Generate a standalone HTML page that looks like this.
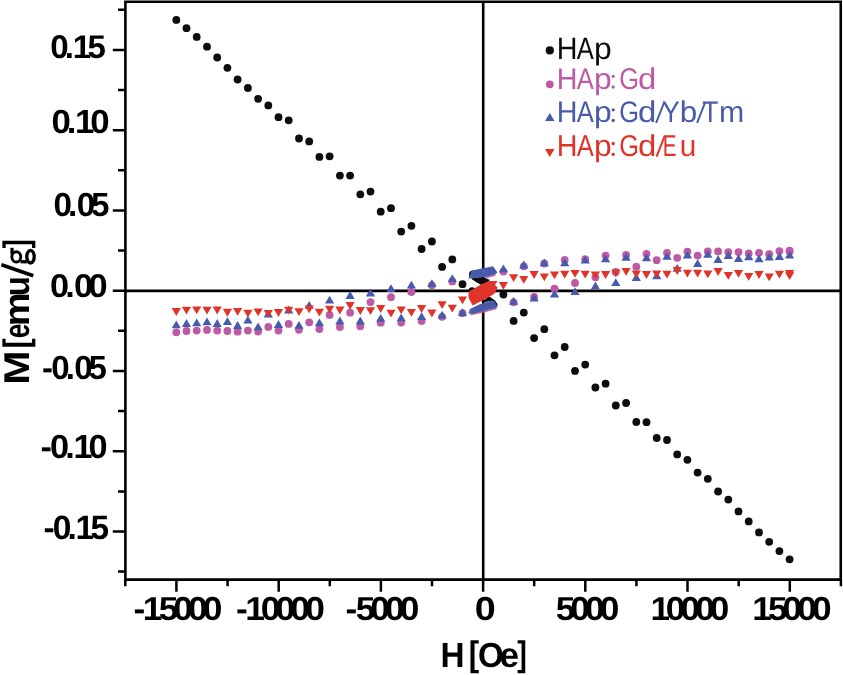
<!DOCTYPE html>
<html><head><meta charset="utf-8"><title>M-H curves</title>
<style>html,body{margin:0;padding:0;background:#fff;width:843px;height:675px;overflow:hidden}svg{display:block}text{text-rendering:geometricPrecision}svg{will-change:transform}</style>
</head><body>
<svg width="843" height="675" viewBox="0 0 843 675" font-family="Liberation Sans, sans-serif" font-size="100">
<rect width="843" height="675" fill="#fff"/>
<path d="M125.4 1.8H840.75V579.6H125.4Z" fill="none" stroke="#000" stroke-width="2.6"/>
<path d="M125.4 290.9H840.75M483.2 1.8V579.6" stroke="#000" stroke-width="2.6"/>
<path d="M118 571.6H125.4M112.8 531.5H125.4M118 491.4H125.4M112.8 451.2H125.4M118 411.1H125.4M112.8 371.0H125.4M118 330.8H125.4M112.8 290.7H125.4M118 250.6H125.4M112.8 210.4H125.4M118 170.3H125.4M112.8 130.2H125.4M118 90.0H125.4M112.8 49.9H125.4M118 9.8H125.4M125.3 579.6V586.3M176.4 579.6V591.8M227.6 579.6V586.3M278.7 579.6V591.8M329.8 579.6V586.3M380.9 579.6V591.8M432.0 579.6V586.3M483.1 579.6V591.8M534.2 579.6V586.3M585.3 579.6V591.8M636.4 579.6V586.3M687.5 579.6V591.8M738.7 579.6V586.3M789.8 579.6V591.8M840.9 579.6V586.3" stroke="#000" stroke-width="2.5"/>
<g fill="#0d0d0d"><circle cx="176.3" cy="19.9" r="3.9"/><circle cx="186.5" cy="28.2" r="3.9"/><circle cx="196.7" cy="36.9" r="3.9"/><circle cx="207.0" cy="46.7" r="3.9"/><circle cx="217.2" cy="57.5" r="3.9"/><circle cx="227.4" cy="67.8" r="3.9"/><circle cx="237.6" cy="79.5" r="3.9"/><circle cx="247.9" cy="88.0" r="3.9"/><circle cx="258.1" cy="98.8" r="3.9"/><circle cx="268.3" cy="105.4" r="3.9"/><circle cx="278.5" cy="117.2" r="3.9"/><circle cx="288.7" cy="120.3" r="3.9"/><circle cx="299.0" cy="138.5" r="3.9"/><circle cx="309.2" cy="141.4" r="3.9"/><circle cx="319.4" cy="156.9" r="3.9"/><circle cx="329.6" cy="156.3" r="3.9"/><circle cx="339.9" cy="175.6" r="3.9"/><circle cx="350.1" cy="175.6" r="3.9"/><circle cx="360.3" cy="194.3" r="3.9"/><circle cx="370.5" cy="191.6" r="3.9"/><circle cx="380.7" cy="211.7" r="3.9"/><circle cx="391.0" cy="208.2" r="3.9"/><circle cx="401.2" cy="231.6" r="3.9"/><circle cx="411.4" cy="225.8" r="3.9"/><circle cx="421.6" cy="249.0" r="3.9"/><circle cx="431.9" cy="241.5" r="3.9"/><circle cx="442.1" cy="266.9" r="3.9"/><circle cx="452.3" cy="259.4" r="3.9"/><circle cx="462.5" cy="284.2" r="3.9"/><circle cx="503.4" cy="294.5" r="3.9"/><circle cx="513.6" cy="320.9" r="3.9"/><circle cx="523.8" cy="312.6" r="3.9"/><circle cx="534.1" cy="338.1" r="3.9"/><circle cx="544.3" cy="329.2" r="3.9"/><circle cx="554.5" cy="355.3" r="3.9"/><circle cx="564.7" cy="347.0" r="3.9"/><circle cx="575.0" cy="370.9" r="3.9"/><circle cx="585.2" cy="364.6" r="3.9"/><circle cx="595.4" cy="387.5" r="3.9"/><circle cx="605.6" cy="383.7" r="3.9"/><circle cx="615.8" cy="405.5" r="3.9"/><circle cx="626.1" cy="403.0" r="3.9"/><circle cx="636.3" cy="422.0" r="3.9"/><circle cx="646.5" cy="422.2" r="3.9"/><circle cx="656.7" cy="438.0" r="3.9"/><circle cx="667.0" cy="440.0" r="3.9"/><circle cx="677.2" cy="454.4" r="3.9"/><circle cx="687.4" cy="459.8" r="3.9"/><circle cx="697.6" cy="472.6" r="3.9"/><circle cx="707.8" cy="478.8" r="3.9"/><circle cx="718.1" cy="491.5" r="3.9"/><circle cx="728.3" cy="499.6" r="3.9"/><circle cx="738.5" cy="511.4" r="3.9"/><circle cx="748.7" cy="521.4" r="3.9"/><circle cx="759.0" cy="532.4" r="3.9"/><circle cx="769.2" cy="541.8" r="3.9"/><circle cx="779.4" cy="551.1" r="3.9"/><circle cx="789.6" cy="559.3" r="3.9"/><circle cx="473" cy="274.6" r="4"/><path d="M471.5 277.5L482 276.5L490 280L486 283.5L481.4 285L476.4 282.3L472.2 279.5Z"/><path d="M481.6 303L488.2 296.5L491 297.4L495 300.4L497.6 304.2L497 307L490 301Z"/><circle cx="472" cy="290.6" r="3.4"/></g>
<g fill="#be5aa5"><circle cx="176.3" cy="332.3" r="3.9"/><circle cx="186.5" cy="331.0" r="3.9"/><circle cx="196.7" cy="330.6" r="3.9"/><circle cx="207.0" cy="329.9" r="3.9"/><circle cx="217.2" cy="330.6" r="3.9"/><circle cx="227.4" cy="331.0" r="3.9"/><circle cx="237.6" cy="331.7" r="3.9"/><circle cx="247.9" cy="330.6" r="3.9"/><circle cx="258.1" cy="331.5" r="3.9"/><circle cx="268.3" cy="326.9" r="3.9"/><circle cx="278.5" cy="330.5" r="3.9"/><circle cx="288.7" cy="323.9" r="3.9"/><circle cx="299.0" cy="329.8" r="3.9"/><circle cx="309.2" cy="322.3" r="3.9"/><circle cx="319.4" cy="329.1" r="3.9"/><circle cx="329.6" cy="314.9" r="3.9"/><circle cx="339.9" cy="327.0" r="3.9"/><circle cx="350.1" cy="312.7" r="3.9"/><circle cx="360.3" cy="326.3" r="3.9"/><circle cx="370.5" cy="302.1" r="3.9"/><circle cx="380.7" cy="322.7" r="3.9"/><circle cx="391.0" cy="297.2" r="3.9"/><circle cx="401.2" cy="322.6" r="3.9"/><circle cx="411.4" cy="292.0" r="3.9"/><circle cx="421.6" cy="320.9" r="3.9"/><circle cx="431.9" cy="285.3" r="3.9"/><circle cx="442.1" cy="316.8" r="3.9"/><circle cx="452.3" cy="281.4" r="3.9"/><circle cx="462.5" cy="313.2" r="3.9"/><circle cx="503.4" cy="271.6" r="3.9"/><circle cx="513.6" cy="302.3" r="3.9"/><circle cx="523.8" cy="266.3" r="3.9"/><circle cx="534.1" cy="296.9" r="3.9"/><circle cx="544.3" cy="263.5" r="3.9"/><circle cx="554.5" cy="288.7" r="3.9"/><circle cx="564.7" cy="259.9" r="3.9"/><circle cx="575.0" cy="283.0" r="3.9"/><circle cx="585.2" cy="259.2" r="3.9"/><circle cx="595.4" cy="277.3" r="3.9"/><circle cx="605.6" cy="255.6" r="3.9"/><circle cx="615.8" cy="272.0" r="3.9"/><circle cx="626.1" cy="254.9" r="3.9"/><circle cx="636.3" cy="266.7" r="3.9"/><circle cx="646.5" cy="253.9" r="3.9"/><circle cx="656.7" cy="260.2" r="3.9"/><circle cx="667.0" cy="252.8" r="3.9"/><circle cx="677.2" cy="257.8" r="3.9"/><circle cx="687.4" cy="251.6" r="3.9"/><circle cx="697.6" cy="255.6" r="3.9"/><circle cx="707.8" cy="251.5" r="3.9"/><circle cx="718.1" cy="251.4" r="3.9"/><circle cx="728.3" cy="252.1" r="3.9"/><circle cx="738.5" cy="252.1" r="3.9"/><circle cx="748.7" cy="253.5" r="3.9"/><circle cx="759.0" cy="252.8" r="3.9"/><circle cx="769.2" cy="254.2" r="3.9"/><circle cx="779.4" cy="251.1" r="3.9"/><circle cx="789.6" cy="250.6" r="3.9"/><circle cx="789.6" cy="251.6" r="3.9"/></g><path d="M485.5 277.9L495.6 274.8M470.4 314.5L483.8 311.8L496.4 308.3" stroke="#be5aa5" stroke-width="1.5" fill="none"/>
<g fill="#485aaa"><path d="M171.7 328.3H180.9L176.3 320.4Z"/><path d="M181.9 326.9H191.1L186.5 319.0Z"/><path d="M192.1 326.3H201.3L196.7 318.4Z"/><path d="M202.4 325.3H211.6L207.0 317.4Z"/><path d="M212.6 326.9H221.8L217.2 319.0Z"/><path d="M222.8 325.1H232.0L227.4 317.2Z"/><path d="M233.0 328.9H242.2L237.6 321.1Z"/><path d="M243.3 323.6H252.5L247.9 315.7Z"/><path d="M253.5 330.3H262.7L258.1 322.4Z"/><path d="M263.7 317.4H272.9L268.3 309.6Z"/><path d="M273.9 327.9H283.1L278.5 320.1Z"/><path d="M284.1 313.4H293.3L288.7 305.6Z"/><path d="M294.4 328.8H303.6L299.0 320.9Z"/><path d="M304.6 308.8H313.8L309.2 300.9Z"/><path d="M314.8 326.3H324.0L319.4 318.4Z"/><path d="M325.0 303.6H334.2L329.6 295.8Z"/><path d="M335.3 324.4H344.5L339.9 316.6Z"/><path d="M345.5 298.9H354.7L350.1 291.1Z"/><path d="M355.7 324.4H364.9L360.3 316.6Z"/><path d="M365.9 296.4H375.1L370.5 288.6Z"/><path d="M376.1 321.8H385.3L380.7 313.9Z"/><path d="M386.4 292.1H395.6L391.0 284.2Z"/><path d="M396.6 321.2H405.8L401.2 313.4Z"/><path d="M406.8 288.6H416.0L411.4 280.7Z"/><path d="M417.0 320.1H426.2L421.6 312.2Z"/><path d="M427.2 287.1H436.5L431.9 279.2Z"/><path d="M437.5 318.6H446.7L442.1 310.8Z"/><path d="M447.7 282.1H456.9L452.3 274.2Z"/><path d="M457.9 316.1H467.1L462.5 308.2Z"/><path d="M498.8 272.2H508.0L503.4 264.4Z"/><path d="M509.0 304.8H518.2L513.6 296.9Z"/><path d="M519.2 268.4H528.4L523.8 260.6Z"/><path d="M529.5 301.4H538.7L534.1 293.6Z"/><path d="M539.7 266.3H548.9L544.3 258.4Z"/><path d="M549.9 297.6H559.1L554.5 289.8Z"/><path d="M560.1 266.2H569.3L564.7 258.4Z"/><path d="M570.4 295.1H579.6L575.0 287.2Z"/><path d="M580.6 263.6H589.8L585.2 255.7Z"/><path d="M590.8 289.4H600.0L595.4 281.6Z"/><path d="M601.0 262.2H610.2L605.6 254.4Z"/><path d="M611.2 286.1H620.4L615.8 278.2Z"/><path d="M621.5 260.8H630.7L626.1 252.9Z"/><path d="M631.7 280.9H640.9L636.3 273.1Z"/><path d="M641.9 261.2H651.1L646.5 253.4Z"/><path d="M652.1 279.2H661.3L656.7 271.4Z"/><path d="M662.4 259.8H671.6L667.0 251.9Z"/><path d="M672.6 271.8H681.8L677.2 263.9Z"/><path d="M682.8 258.4H692.0L687.4 250.5Z"/><path d="M693.0 267.1H702.2L697.6 259.2Z"/><path d="M703.2 257.8H712.4L707.8 249.9Z"/><path d="M713.5 262.9H722.7L718.1 255.1Z"/><path d="M723.7 258.9H732.9L728.3 251.0Z"/><path d="M733.9 262.1H743.1L738.5 254.2Z"/><path d="M744.1 260.3H753.3L748.7 252.4Z"/><path d="M754.4 262.2H763.6L759.0 254.4Z"/><path d="M764.6 260.6H773.8L769.2 252.8Z"/><path d="M774.8 259.9H784.0L779.4 252.1Z"/><path d="M785.0 258.6H794.2L789.6 250.8Z"/><path d="M468.3 278.4L471.8 270.6L493.0 266.2L497.5 272.6L495 274.3L486.7 276.8L478.4 278Z"/><path d="M470 308.9L479.3 304.4L491.8 300.4L494.4 300.9L497.6 306.7L497.1 307.6L483.8 311.1L472.7 313.8L468.4 313.6Z"/></g>
<g fill="#e0342a"><path d="M171.7 308.1H180.9L176.3 316.0Z"/><path d="M181.9 306.7H191.1L186.5 314.6Z"/><path d="M192.1 306.4H201.3L196.7 314.2Z"/><path d="M202.4 306.7H211.6L207.0 314.6Z"/><path d="M212.6 306.6H221.8L217.2 314.4Z"/><path d="M222.8 308.8H232.0L227.4 316.7Z"/><path d="M233.0 307.9H242.2L237.6 315.8Z"/><path d="M243.3 309.7H252.5L247.9 317.6Z"/><path d="M253.5 308.4H262.7L258.1 316.3Z"/><path d="M263.7 309.9H272.9L268.3 317.8Z"/><path d="M273.9 309.1H283.1L278.5 316.9Z"/><path d="M284.1 306.8H293.3L288.7 314.6Z"/><path d="M294.4 308.2H303.6L299.0 316.1Z"/><path d="M304.6 305.4H313.8L309.2 313.2Z"/><path d="M314.8 308.8H324.0L319.4 316.6Z"/><path d="M325.0 305.8H334.2L329.6 313.6Z"/><path d="M335.3 306.6H344.5L339.9 314.4Z"/><path d="M345.5 301.9H354.7L350.1 309.8Z"/><path d="M355.7 307.1H364.9L360.3 314.9Z"/><path d="M365.9 307.2H375.1L370.5 315.1Z"/><path d="M376.1 305.1H385.3L380.7 312.9Z"/><path d="M386.4 309.8H395.6L391.0 317.6Z"/><path d="M396.6 306.4H405.8L401.2 314.3Z"/><path d="M406.8 308.9H416.0L411.4 316.8Z"/><path d="M417.0 305.1H426.2L421.6 312.9Z"/><path d="M427.2 309.6H436.5L431.9 317.4Z"/><path d="M437.5 301.2H446.7L442.1 309.1Z"/><path d="M447.7 304.7H456.9L452.3 312.6Z"/><path d="M457.9 296.4H467.1L462.5 304.3Z"/><path d="M498.8 281.9H508.0L503.4 289.8Z"/><path d="M509.0 274.2H518.2L513.6 282.1Z"/><path d="M519.2 275.9H528.4L523.8 283.8Z"/><path d="M529.5 271.1H538.7L534.1 278.9Z"/><path d="M539.7 273.4H548.9L544.3 281.3Z"/><path d="M549.9 271.4H559.1L554.5 279.3Z"/><path d="M560.1 270.8H569.3L564.7 278.6Z"/><path d="M570.4 269.9H579.6L575.0 277.8Z"/><path d="M580.6 270.8H589.8L585.2 278.6Z"/><path d="M590.8 271.4H600.0L595.4 279.2Z"/><path d="M601.0 271.1H610.2L605.6 278.9Z"/><path d="M611.2 269.4H620.4L615.8 277.3Z"/><path d="M621.5 267.9H630.7L626.1 275.8Z"/><path d="M631.7 270.4H640.9L636.3 278.3Z"/><path d="M641.9 271.1H651.1L646.5 278.9Z"/><path d="M652.1 270.4H661.3L656.7 278.3Z"/><path d="M662.4 270.8H671.6L667.0 278.6Z"/><path d="M672.6 267.1H681.8L677.2 274.9Z"/><path d="M682.8 269.7H692.0L687.4 277.6Z"/><path d="M693.0 269.7H702.2L697.6 277.6Z"/><path d="M703.2 270.4H712.4L707.8 278.3Z"/><path d="M713.5 268.1H722.7L718.1 275.9Z"/><path d="M723.7 271.9H732.9L728.3 279.8Z"/><path d="M733.9 269.9H743.1L738.5 277.8Z"/><path d="M744.1 272.9H753.3L748.7 280.8Z"/><path d="M754.4 271.1H763.6L759.0 278.9Z"/><path d="M764.6 273.4H773.8L769.2 281.2Z"/><path d="M774.8 270.8H784.0L779.4 278.6Z"/><path d="M785.0 270.1H794.2L789.6 277.9Z"/><path d="M785.0 272.2H794.2L789.6 280.1Z"/><path d="M469.1 291.6L481.4 284.3L488.8 280.9L497.5 280.9L495 285.1L497.5 287.2L497.1 288.9L494.4 293.8L488.2 297.6L472.7 305.6L468.7 298.2L468.4 293.8Z"/></g>
<g>
<circle cx="549.8" cy="50.4" r="4.1" fill="#0d0d0d"/>
<circle cx="549.8" cy="84.3" r="3.9" fill="#be5aa5"/>
<path d="M545 120.9H554.5L549.75 113Z" fill="#485aaa"/>
<path d="M545 149H554.5L549.75 157Z" fill="#e0342a"/>
</g>
<text x="151.6 195.9 219.7 264.5" y="0" transform="translate(0 57.77) scale(0.3310 0.3282)" font-weight="bold">0.15</text>
<text x="147.8 192.0 215.8 259.7" y="0" transform="translate(0 133.16) scale(0.3479 0.3352)" font-weight="bold">0.10</text>
<text x="160.7 204.9 230.7 273.6" y="0" transform="translate(0 216.17) scale(0.3322 0.3338)" font-weight="bold">0.05</text>
<text x="145.9 190.2 216.0 257.8" y="0" transform="translate(0 296.67) scale(0.3429 0.3296)" font-weight="bold">0.00</text>
<text x="127.3 155.2 199.5 225.3 268.2" y="0" transform="translate(0 379.07) scale(0.3297 0.3338)" font-weight="bold">-0.05</text>
<text x="118.3 146.3 190.5 214.3 258.2" y="0" transform="translate(0 458.26) scale(0.3425 0.3352)" font-weight="bold">-0.10</text>
<text x="129.9 157.9 202.1 225.9 270.8" y="0" transform="translate(0 538.76) scale(0.3345 0.3366)" font-weight="bold">-0.15</text>
<text x="377.4 403.3 448.2 489.1 530.9 572.8" y="0" transform="translate(0 619.97) scale(0.3540 0.3324)" font-weight="bold">-15000</text>
<text x="666.7 692.6 736.5 778.4 820.2 862.1" y="0" transform="translate(0 619.97) scale(0.3540 0.3324)" font-weight="bold">-10000</text>
<text x="980.2 1009.1 1050.0 1091.9 1133.8" y="0" transform="translate(0 619.97) scale(0.3526 0.3324)" font-weight="bold">-5000</text>
<text x="1260.8" y="0" transform="translate(0 619.97) scale(0.3766 0.3324)" font-weight="bold">0</text>
<text x="1575.2 1616.1 1658.0 1699.8" y="0" transform="translate(0 619.97) scale(0.3528 0.3324)" font-weight="bold">5000</text>
<text x="1855.1 1899.0 1940.9 1982.7 2024.6" y="0" transform="translate(0 619.97) scale(0.3506 0.3324)" font-weight="bold">10000</text>
<text x="2140.3 2185.2 2226.1 2267.9 2309.8" y="0" transform="translate(0 619.97) scale(0.3515 0.3324)" font-weight="bold">15000</text>
<g transform="translate(0 667.1)"><text transform="translate(440.57 0.00) scale(0.3328 0.3478)" font-weight="bold">H</text><text transform="translate(468.63 -0.84) scale(0.3115 0.3543)" font-weight="bold">[</text><text transform="translate(477.98 0.00) scale(0.3300 0.3478)" font-weight="bold">O</text><text transform="translate(499.39 0.00) scale(0.3521 0.3478)" font-weight="bold">e</text><text transform="translate(517.21 -0.84) scale(0.2889 0.3543)" font-weight="bold">]</text></g>
<g transform="translate(28.7 382) rotate(-90)"><text transform="translate(-2.87 0.00) scale(0.4100 0.3580)" font-weight="bold">M</text><text transform="translate(33.45 -0.84) scale(0.3077 0.3543)" font-weight="bold">[</text><text transform="translate(43.65 0.00) scale(0.2625 0.3580)" font-weight="bold">e</text><text transform="translate(55.63 0.00) scale(0.3816 0.3580)" font-weight="bold">m</text><text transform="translate(85.83 0.00) scale(0.3292 0.3580)" font-weight="bold">u</text><text transform="translate(133.63 -1.02) scale(0.2704 0.3532)" font-weight="bold">]</text><path d="M106.2 4.6L117.2 -27.3" stroke="#000" stroke-width="3.6"/></g>
<g fill="none" stroke="#000"><ellipse cx="16.3" cy="256.9" rx="4.45" ry="5.1" stroke-width="2.9"/><ellipse cx="30.5" cy="256.7" rx="3.7" ry="6.3" stroke-width="3.3"/><path d="M20.5 261.6L26.8 261.9" stroke-width="3.4"/></g><rect x="10.4" y="247.8" width="3.2" height="6.5"/>
<g fill="#0d0d0d"><text transform="translate(556.80 58.7) scale(0.2875 0.3072)">H</text><text transform="translate(576.80 58.7) scale(0.2561 0.3072)">A</text><text transform="translate(593.97 58.7) scale(0.3182 0.3072)">p</text></g>
<g fill="#be5aa5"><text transform="translate(556.80 88.7) scale(0.2875 0.3000)">H</text><text transform="translate(576.80 88.7) scale(0.2561 0.3000)">A</text><text transform="translate(593.97 88.7) scale(0.3182 0.3000)">p</text><circle cx="613.20" cy="76.28" r="1.65"/><circle cx="613.20" cy="87.00" r="1.65"/><text transform="translate(619.13 88.7) scale(0.2538 0.3000)">G</text><text transform="translate(638.08 88.7) scale(0.3289 0.3000)">d</text></g>
<g fill="#485aaa"><text transform="translate(556.80 122.2) scale(0.2875 0.2986)">H</text><text transform="translate(576.80 122.2) scale(0.2561 0.2986)">A</text><text transform="translate(593.97 122.2) scale(0.3182 0.2986)">p</text><circle cx="613.20" cy="109.84" r="1.65"/><circle cx="613.20" cy="120.50" r="1.65"/><text transform="translate(619.13 122.2) scale(0.2538 0.2986)">G</text><text transform="translate(638.08 122.2) scale(0.3289 0.2986)">d</text><text transform="translate(662.00 122.2) scale(0.2656 0.2986)">Y</text><text transform="translate(679.80 122.2) scale(0.3136 0.2986)">b</text><text transform="translate(702.27 122.2) scale(0.2632 0.2986)">T</text><text transform="translate(718.98 122.2) scale(0.3029 0.2986)">m</text></g>
<path d="M656.1 122.8L664.3 102M697.1 122.8L705.3 102" stroke="#485aaa" stroke-width="2.0"/>
<g fill="#e0342a"><text transform="translate(556.80 156.0) scale(0.2875 0.3014)">H</text><text transform="translate(576.80 156.0) scale(0.2561 0.3014)">A</text><text transform="translate(593.97 156.0) scale(0.3182 0.3014)">p</text><circle cx="613.20" cy="143.52" r="1.65"/><circle cx="613.20" cy="154.30" r="1.65"/><text transform="translate(619.13 156.0) scale(0.2538 0.3014)">G</text><text transform="translate(638.08 156.0) scale(0.3289 0.3014)">d</text><text transform="translate(662.84 156.0) scale(0.2074 0.3014)">E</text><text transform="translate(679.82 156.0) scale(0.2976 0.3014)">u</text></g>
<path d="M656.6 156.6L664.8 135.6" stroke="#e0342a" stroke-width="2.0"/>
</svg>
</body></html>
